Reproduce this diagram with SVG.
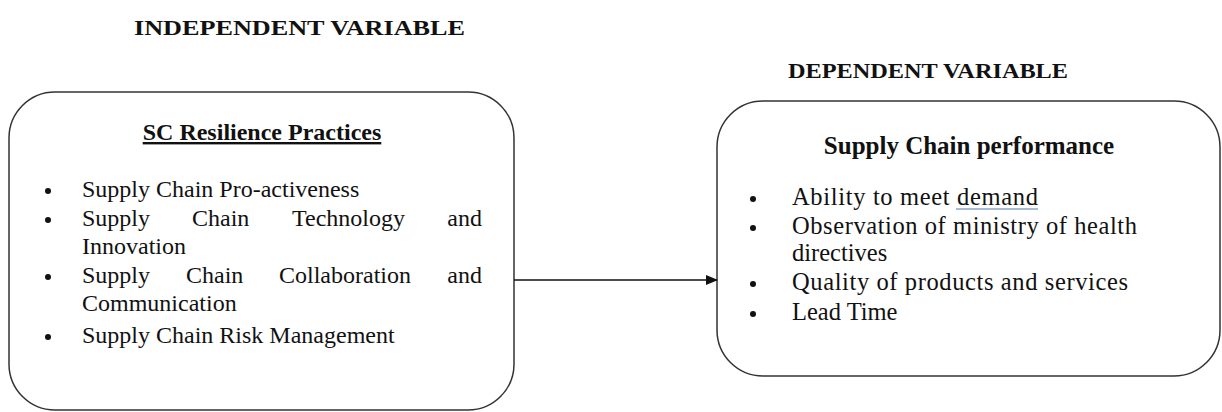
<svg xmlns="http://www.w3.org/2000/svg" width="1222" height="412" viewBox="0 0 1222 412">
<style>
.hdr{font-family:"Liberation Serif",serif;font-weight:bold;font-size:22px;fill:#111}
.ttl{font-family:"Liberation Serif",serif;font-weight:bold;font-size:24px;fill:#111}
.ttl2{font-family:"Liberation Serif",serif;font-weight:bold;font-size:25px;fill:#111}
.t{font-family:"Liberation Serif",serif;font-size:24px;fill:#111}
.t2{font-family:"Liberation Serif",serif;font-size:24.5px;fill:#111}
.box{fill:#fff;stroke:#333;stroke-width:1.5}
.conn{stroke:#111;stroke-width:1.5;fill:none}
</style>
<defs>
<marker id="ah" markerWidth="12" markerHeight="10" refX="11" refY="5" orient="auto" markerUnits="userSpaceOnUse">
<path d="M0,0 L12,5 L0,10 Z" fill="#111"/>
</marker>
</defs>
<rect width="1222" height="412" fill="#fff"/>
<text class="hdr" x="134" y="35" textLength="331" lengthAdjust="spacingAndGlyphs">INDEPENDENT VARIABLE</text>
<text class="hdr" x="788" y="78" textLength="280" lengthAdjust="spacingAndGlyphs">DEPENDENT VARIABLE</text>
<g id="node-independent">
<rect class="box" x="9" y="92" width="505" height="318" rx="46" ry="46"/>
<text class="ttl" x="262" y="140" text-anchor="middle" text-decoration="underline">SC Resilience Practices</text>
<g class="t">
<circle cx="48" cy="191" r="3" fill="#111"/>
<text x="82" y="197">Supply Chain Pro-activeness</text>
<circle cx="48" cy="220" r="3" fill="#111"/>
<text x="82" y="226">Supply</text>
<text x="192" y="226">Chain</text>
<text x="292" y="226">Technology</text>
<text x="482" y="226" text-anchor="end">and</text>
<text x="82" y="254">Innovation</text>
<circle cx="48" cy="277" r="3" fill="#111"/>
<text x="82" y="283">Supply</text>
<text x="186" y="283">Chain</text>
<text x="279" y="283">Collaboration</text>
<text x="482" y="283" text-anchor="end">and</text>
<text x="82" y="311">Communication</text>
<circle cx="48" cy="337" r="3" fill="#111"/>
<text x="82" y="343">Supply Chain Risk Management</text>
</g>
</g>
<g id="node-dependent">
<rect class="box" x="717" y="101" width="503" height="275" rx="46" ry="46"/>
<text class="ttl2" x="969" y="154" text-anchor="middle">Supply Chain performance</text>
<g class="t2">
<circle cx="753" cy="199" r="3" fill="#111"/>
<text x="792" y="205" textLength="246" lengthAdjust="spacing">Ability to meet demand</text>
<circle cx="753" cy="228" r="3" fill="#111"/>
<text x="792" y="233.5" textLength="345" lengthAdjust="spacing">Observation of ministry of health</text>
<text x="792" y="261">directives</text>
<circle cx="753" cy="284" r="3" fill="#111"/>
<text x="792" y="290" textLength="336" lengthAdjust="spacing">Quality of products and services</text>
<circle cx="753" cy="314" r="3" fill="#111"/>
<text x="792" y="320">Lead Time</text>
</g>
<line x1="956" y1="209" x2="1038" y2="209" stroke="#5577aa" stroke-width="1"/>
</g>
<g id="connectors">
<line class="conn" x1="514" y1="280" x2="717" y2="280" marker-end="url(#ah)"/>
</g>
</svg>
